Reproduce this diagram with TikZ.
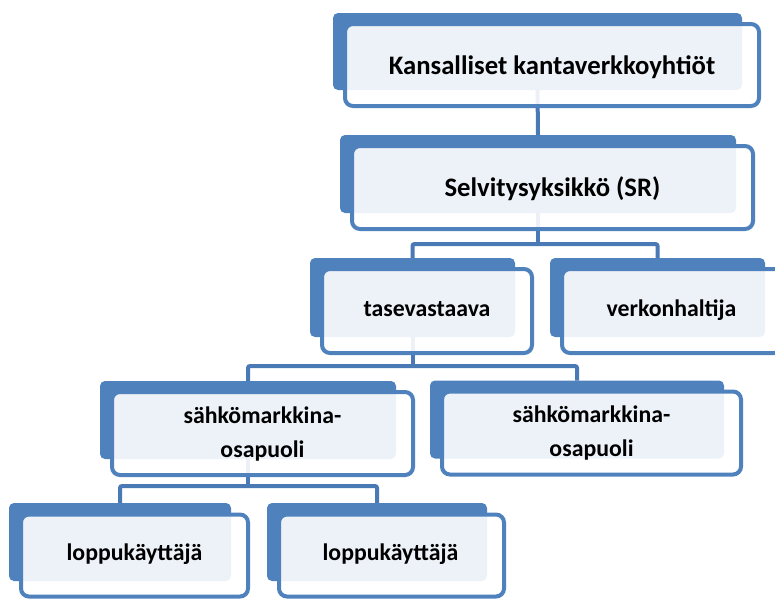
\documentclass[tikz,border=0pt]{standalone}
\usepackage{fontspec}
\setmainfont{Carlito}
\usetikzlibrary{backgrounds}
\definecolor{accent}{HTML}{4F81BD}
\definecolor{linkblue}{HTML}{4A7AB5}
% box labels: bold; the node baseline is the first line's
\newcommand\bigtext[1]{{\fontsize{26.7}{34}\selectfont\bfseries
  \begin{tabular}[t]{@{}c@{}}#1\end{tabular}}}
\newcommand\boxtext[1]{{\fontsize{23.8}{34}\selectfont\bfseries
  \begin{tabular}[t]{@{}c@{}}#1\end{tabular}}}
\tikzset{
  backbox/.style={fill=accent, rounded corners=5pt, inner sep=0pt, outer sep=0pt},
  frontbox/.style={draw=accent, line width=4pt, fill=white, fill opacity=0.9,
    rounded corners=8pt, inner sep=0pt, outer sep=0pt},
  lbl/.style={anchor=base, inner sep=0pt},
  link/.style={draw=linkblue, line width=4pt, rounded corners=2pt}
}
\begin{document}
\begin{tikzpicture}[x=1pt,y=-1pt]
\useasboundingbox (0,0) rectangle (775,598);
\clip (0,0) rectangle (775,598);

% national grid companies
\node[backbox, minimum width=409pt, minimum height=77pt] (b1) at (537.5,51.5) {};
\node[frontbox, minimum width=414pt, minimum height=82pt] (f1) at ([shift={(14.5,13.5)}]b1.center) {};
\node[lbl] (t1) at ([yshift=-9pt]f1.center) {\bigtext{Kansalliset kantaverkkoyhtiöt}};

% settlement unit
\node[backbox, minimum width=396pt, minimum height=78pt] (b2) at (538,174) {};
\node[frontbox, minimum width=401pt, minimum height=83pt] (f2) at ([shift={(14.5,13.5)}]b2.center) {};
\node[lbl] (t2) at ([yshift=-8.5pt]f2.center) {\bigtext{Selvitysyksikkö (SR)}};

% second level
\node[backbox, minimum width=205pt, minimum height=79pt] (b3) at (412.5,297.5) {};
\node[frontbox, minimum width=210pt, minimum height=84pt] (f3) at ([shift={(14.5,13.5)}]b3.center) {};
\node[lbl] (t3) at ([yshift=-5.5pt]f3.center) {\boxtext{tasevastaava}};

\node[backbox, minimum width=215pt, minimum height=79pt] (b4) at (657.5,297.5) {};
\node[frontbox, minimum width=220pt, minimum height=84pt] (f4) at ([shift={(14.5,13.5)}]b4.center) {};
\node[lbl] (t4) at ([xshift=-0.5pt,yshift=-5.5pt]f4.center) {\boxtext{verkonhaltija}};

% third level
\node[backbox, minimum width=296pt, minimum height=78pt] (b5) at (248,420) {};
\node[frontbox, minimum width=301pt, minimum height=83pt] (f5) at ([shift={(14.5,13.5)}]b5.center) {};
\node[lbl] (t5) at ([yshift=10.5pt]f5.center) {\boxtext{sähkömarkkina-\\osapuoli}};

\node[backbox, minimum width=294pt, minimum height=78pt] (b6) at (577,419.5) {};
\node[frontbox, minimum width=299pt, minimum height=83pt] (f6) at ([shift={(14.5,13.5)}]b6.center) {};
\node[lbl] (t6) at ([yshift=11pt]f6.center) {\boxtext{sähkömarkkina-\\osapuoli}};

% end users
\node[backbox, minimum width=222pt, minimum height=78pt] (b7) at (120,542) {};
\node[frontbox, minimum width=227pt, minimum height=82pt] (f7) at ([shift={(14.5,13.5)}]b7.center) {};
\node[lbl] (t7) at ([yshift=-4.5pt]f7.center) {\boxtext{loppukäyttäjä}};

\node[backbox, minimum width=220pt, minimum height=78pt] (b8) at (377,542) {};
\node[frontbox, minimum width=225pt, minimum height=82pt] (f8) at ([shift={(14.5,13.5)}]b8.center) {};
\node[lbl] (t8) at ([xshift=-1pt,yshift=-4.5pt]f8.center) {\boxtext{loppukäyttäjä}};

% connectors, kept underneath the boxes
\begin{pgfonlayer}{background}
  \coordinate (j2) at ([yshift=-31pt]b2.south);
  \coordinate (j3) at ([yshift=-29pt]b3.south);
  \coordinate (j5) at ([yshift=-27pt]b5.south);
  \draw[link] (b1.south) -- (b2.north);
  \draw[link] (b2.south) -- (j2);
  \draw[link] (b3.north) |- (j2) -| (b4.north);
  \draw[link] (b3.south) -- (j3);
  \draw[link] (b5.north) |- (j3) -| (b6.north);
  \draw[link] (b5.south) -- (j5);
  \draw[link] (b7.north) |- (j5) -| (b8.north);
\end{pgfonlayer}
\end{tikzpicture}
\end{document}
